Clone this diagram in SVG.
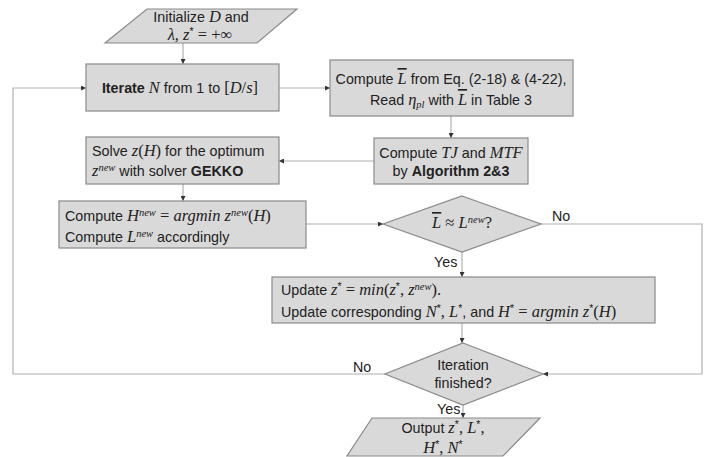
<svg xmlns="http://www.w3.org/2000/svg" width="707" height="457" viewBox="0 0 707 457">
<defs>
<marker id="ah" viewBox="0 0 6 6" refX="6" refY="3" markerWidth="5" markerHeight="5" orient="auto" markerUnits="userSpaceOnUse">
<path d="M0,0 L6,3 L0,6 z" fill="#333"/>
</marker>
<style>
.n{fill:#d9d9d9;stroke:#8a8a8a;stroke-width:1.2}
.c{fill:none;stroke:#b0b0b0;stroke-width:1.2}
.a{marker-end:url(#ah)}
text{font-family:"Liberation Sans",Arial,sans-serif;font-size:14.3px;fill:#222}
.m{font-family:"Liberation Serif","Times New Roman",serif;font-style:italic;font-size:16.5px}
.u{font-family:"Liberation Serif","Times New Roman",serif;font-size:16.5px}
.s{font-size:10.5px}
.b{font-weight:bold}
.ctr{text-anchor:middle}
.ol{text-decoration:overline}
</style>
</defs>
<rect width="707" height="457" fill="#fff"/>
<g id="connectors">
<path class="c a" d="M183,43 V64"/>
<path class="c a" d="M279,88 H330"/>
<path class="c a" d="M451,116 V138"/>
<path class="c a" d="M374,161 H279"/>
<path class="c a" d="M183,184 V201"/>
<path class="c a" d="M306,224 H383"/>
<path class="c a" d="M541,224 H702 V374 H543"/>
<path class="c a" d="M462,252 V277"/>
<path class="c a" d="M462,323 V343"/>
<path class="c a" d="M385,374 H13 V88 H86"/>
<path class="c a" d="M463,405 V418"/>
</g>
<g id="labels">
<text x="552" y="221">No</text>
<text x="353" y="372">No</text>
<text x="434" y="267">Yes</text>
<text x="437" y="414">Yes</text>
</g>
<g id="init">
<polygon class="n" points="147,9 297,9 257,43 105,43"/>
<text class="ctr" x="201" y="22">Initialize <tspan class="m">D</tspan> and</text>
<text class="ctr" x="200" y="40"><tspan class="m">λ, z</tspan><tspan class="s" dy="-5">*</tspan><tspan class="u" dy="5"> = +∞</tspan></text>
</g>
<g id="iterate">
<rect class="n" x="86" y="64" width="193" height="47"/>
<text class="ctr" x="180" y="93"><tspan class="b">Iterate</tspan> <tspan class="m">N</tspan> from 1 to <tspan class="u">[</tspan><tspan class="m">D</tspan><tspan class="u">/</tspan><tspan class="m">s</tspan><tspan class="u">]</tspan></text>
</g>
<g id="computeL">
<rect class="n" x="330" y="60" width="243" height="56"/>
<text class="ctr" x="451" y="84">Compute <tspan class="m ol">L</tspan> from Eq. (2-18) &amp; (4-22),</text>
<text class="ctr" x="451" y="105">Read <tspan class="m">η</tspan><tspan class="m s" dy="3">pl</tspan><tspan dy="-3"> with </tspan><tspan class="m ol">L</tspan> in Table 3</text>
</g>
<g id="computeTJ">
<rect class="n" x="374" y="138" width="154" height="46"/>
<text class="ctr" x="451" y="158">Compute <tspan class="m">TJ</tspan> and <tspan class="m">MTF</tspan></text>
<text class="ctr" x="451" y="176">by <tspan class="b">Algorithm 2&amp;3</tspan></text>
</g>
<g id="solve">
<rect class="n" x="86" y="137" width="193" height="47"/>
<text x="92" y="156">Solve <tspan class="m">z</tspan><tspan class="u">(</tspan><tspan class="m">H</tspan><tspan class="u">)</tspan> for the optimum</text>
<text x="92" y="176"><tspan class="m">z</tspan><tspan class="m s" dy="-5">new</tspan><tspan dy="5"> with solver </tspan><tspan class="b">GEKKO</tspan></text>
</g>
<g id="computeH">
<rect class="n" x="59" y="201" width="247" height="47"/>
<text x="65" y="221">Compute <tspan class="m">H</tspan><tspan class="m s" dy="-5">new</tspan><tspan class="u" dy="5"> = </tspan><tspan class="m">argmin z</tspan><tspan class="m s" dy="-5">new</tspan><tspan class="u" dy="5">(</tspan><tspan class="m">H</tspan><tspan class="u">)</tspan></text>
<text x="65" y="242">Compute <tspan class="m">L</tspan><tspan class="m s" dy="-5">new</tspan><tspan dy="5"> accordingly</tspan></text>
</g>
<g id="check">
<polygon class="n" points="462,196 541,224 462,252 383,224"/>
<text class="ctr" x="462" y="228"><tspan class="m ol">L</tspan><tspan class="u"> ≈ </tspan><tspan class="m">L</tspan><tspan class="m s" dy="-5">new</tspan><tspan class="u" dy="5">?</tspan></text>
</g>
<g id="update">
<rect class="n" x="272" y="277" width="383" height="46"/>
<text x="281" y="295">Update <tspan class="m">z</tspan><tspan class="s" dy="-5">*</tspan><tspan class="u" dy="5"> = </tspan><tspan class="m">min</tspan><tspan class="u">(</tspan><tspan class="m">z</tspan><tspan class="s" dy="-5">*</tspan><tspan class="u" dy="5">, </tspan><tspan class="m">z</tspan><tspan class="m s" dy="-5">new</tspan><tspan class="u" dy="5">).</tspan></text>
<text x="281" y="317">Update corresponding <tspan class="m">N</tspan><tspan class="s" dy="-5">*</tspan><tspan class="u" dy="5">, </tspan><tspan class="m">L</tspan><tspan class="s" dy="-5">*</tspan><tspan dy="5">, and </tspan><tspan class="m">H</tspan><tspan class="s" dy="-5">*</tspan><tspan class="u" dy="5"> = </tspan><tspan class="m">argmin z</tspan><tspan class="s" dy="-5">*</tspan><tspan class="u" dy="5">(</tspan><tspan class="m">H</tspan><tspan class="u">)</tspan></text>
</g>
<g id="finished">
<polygon class="n" points="463,343 543,374 463,405 385,374"/>
<text class="ctr" x="463" y="370">Iteration</text>
<text class="ctr" x="463" y="388">finished?</text>
</g>
<g id="output">
<polygon class="n" points="372,418 540,418 503,456 347,456"/>
<text class="ctr" x="443" y="433">Output <tspan class="m">z</tspan><tspan class="s" dy="-5">*</tspan><tspan class="u" dy="5">, </tspan><tspan class="m">L</tspan><tspan class="s" dy="-5">*</tspan><tspan class="u" dy="5">,</tspan></text>
<text class="ctr" x="443" y="453"><tspan class="m">H</tspan><tspan class="s" dy="-5">*</tspan><tspan class="u" dy="5">, </tspan><tspan class="m">N</tspan><tspan class="s" dy="-5">*</tspan></text>
</g>
</svg>
